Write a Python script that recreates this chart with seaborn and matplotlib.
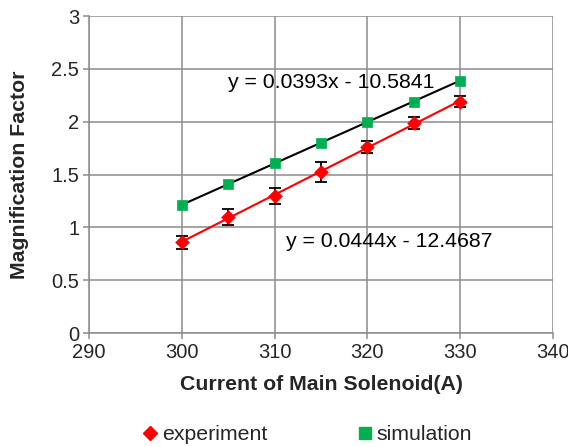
import numpy as np
import pandas as pd
import matplotlib
matplotlib.use("Agg")
import matplotlib.pyplot as plt
import seaborn as sns
from matplotlib.lines import Line2D

current = [300, 305, 310, 315, 320, 325, 330]
experiment = [0.86, 1.10, 1.30, 1.52, 1.76, 1.99, 2.19]
experiment_err = [0.06, 0.075, 0.075, 0.095, 0.055, 0.055, 0.055]
simulation = [1.21, 1.41, 1.61, 1.80, 2.00, 2.19, 2.39]
eq_sim = "y = 0.0393x - 10.5841"
eq_exp = "y = 0.0444x - 12.4687"
x_ticks = [290, 300, 310, 320, 330, 340]
y_ticks = [0, 0.5, 1, 1.5, 2, 2.5, 3]
y_ticklabels = ["0", "0.5", "1", "1.5", "2", "2.5", "3"]

sns.set_style("white")
plt.rcParams['font.family'] = ['Liberation Sans', 'DejaVu Sans']

df = pd.DataFrame({"current": current, "experiment": experiment,
                   "err": experiment_err, "simulation": simulation})

RED = "#FF0000"
GREEN = "#00B050"
GRID = "#8C8C8C"

fig = plt.figure(figsize=(5.68, 4.47), dpi=100)
ax = fig.add_axes([0.1567, 0.255, 0.8169, 0.709])

ax.set_xlim(290, 340)
ax.set_ylim(0, 3)
ax.set_xticks(x_ticks)
ax.set_yticks(y_ticks)
ax.set_yticklabels(y_ticklabels)
ax.grid(True, color=GRID, linewidth=1.1)
ax.set_axisbelow(True)
for s in ["top", "right"]:
    ax.spines[s].set_visible(False)
for s in ["left", "bottom"]:
    ax.spines[s].set_color(GRID)
    ax.spines[s].set_linewidth(1.1)
ax.tick_params(axis="both", which="both", direction="out", length=4,
               width=1.1, color=GRID, labelsize=14.5, pad=3, bottom=True, left=True)

# trend lines
sns.regplot(data=df, x="current", y="simulation", scatter=False, ci=None,
            truncate=True, ax=ax, line_kws=dict(color="black", lw=1.5, zorder=3))
sns.regplot(data=df, x="current", y="experiment", scatter=False, ci=None,
            truncate=True, ax=ax, line_kws=dict(color=RED, lw=1.5, zorder=3))

# error bars
ax.errorbar(df["current"], df["experiment"], yerr=df["err"], fmt="none",
            ecolor="black", elinewidth=1.3, capsize=4.5, capthick=1.3, zorder=4)

# markers
sns.scatterplot(data=df, x="current", y="simulation", marker="s", s=60,
                color=GREEN, edgecolor=GREEN, linewidth=0.5, ax=ax, zorder=5)
sns.scatterplot(data=df, x="current", y="experiment", marker="D", s=48,
                color=RED, edgecolor=RED, linewidth=0.5, ax=ax, zorder=6)

ax.text(305.0, 2.375, eq_sim, fontsize=15.3, color="black", va="center", ha="left", zorder=7)
ax.text(311.2, 0.864, eq_exp, fontsize=15.3, color="black", va="center", ha="left", zorder=7)

ax.set_xlabel("Current of Main Solenoid(A)", fontsize=15.3, fontweight="bold")
ax.set_ylabel("Magnification Factor", fontsize=15.3, fontweight="bold")
ax.xaxis.set_label_coords(0.5, -0.132)
ax.yaxis.set_label_coords(-0.13, 0.5)

handles = [Line2D([], [], marker="D", color=RED, linestyle="none", markersize=7),
           Line2D([], [], marker="s", color=GREEN, linestyle="none", markersize=8.5)]
fig.legend(handles, ["experiment", "simulation"], loc="center",
           bbox_to_anchor=(0.54, 0.027), ncol=2, frameon=False, fontsize=15.3,
           handletextpad=0.15, columnspacing=4.2, handlelength=0.8)

fig.savefig("out.png", dpi=100)
